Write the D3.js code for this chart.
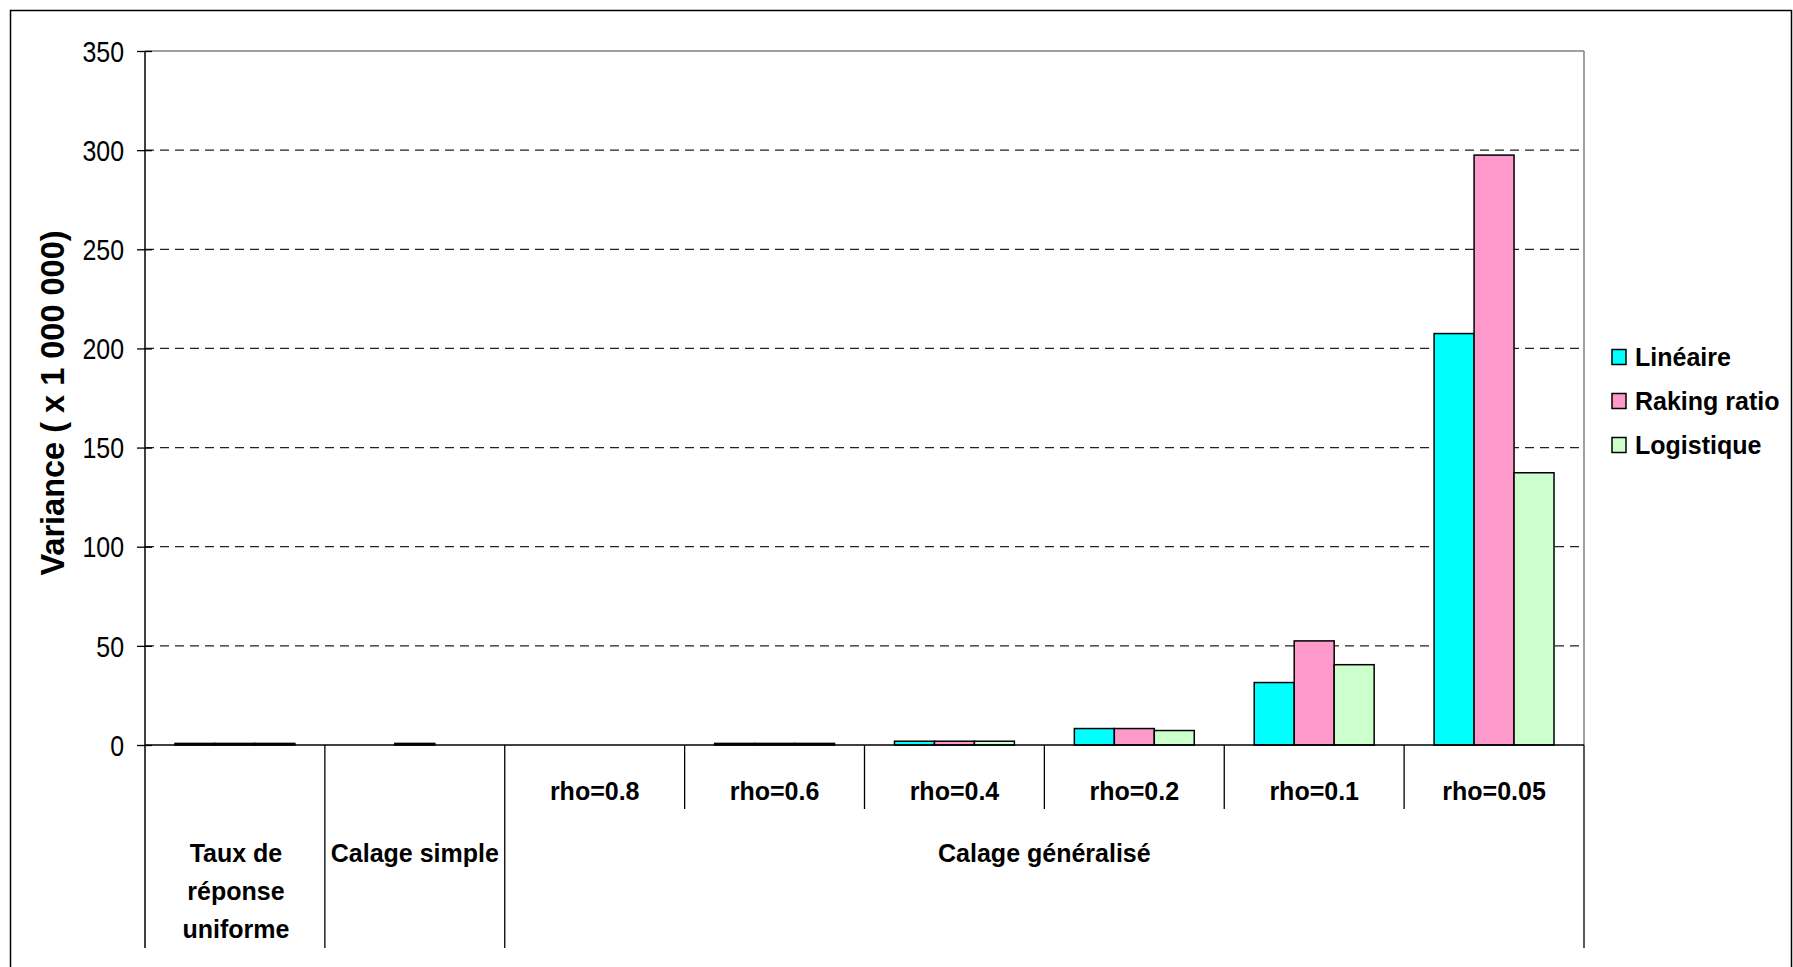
<!DOCTYPE html>
<html>
<head>
<meta charset="utf-8">
<script src="https://cdn.jsdelivr.net/npm/d3@7"></script>
<style>
  html, body { margin: 0; padding: 0; background: #fff; }
  svg { display: block; }
</style>
</head>
<body>
<svg id="chart" width="1793" height="967"></svg>
<script>
// ---- Data ----
const rhoLabels = ["", "", "rho=0.8", "rho=0.6", "rho=0.4", "rho=0.2", "rho=0.1", "rho=0.05"];
const groupLabels = [["Taux de", "réponse", "uniforme"], ["Calage simple"], ["Calage généralisé"]];
const groupSpans = [1, 1, 6];
const seriesNames = ["Linéaire", "Raking ratio", "Logistique"];
const seriesColors = ["#00FFFF", "#FF99CC", "#CCFFCC"];
const lineaire   = [0.8, null, null, 0.8, 1.9, 8.3, 31.5, 207.5];
const rakingRatio = [0.8, 0.8, null, 0.8, 1.9, 8.3, 52.5, 297.5];
const logistique = [0.8, null, null, 0.8, 1.9, 7.3, 40.5, 137.3];
const yTicks = [0, 50, 100, 150, 200, 250, 300, 350];
const yTitle = "Variance ( x 1 000 000)";

const seriesValues = [lineaire, rakingRatio, logistique];

// ---- Layout ----
const svg = d3.select("#chart");
const X0 = 145, X1 = 1584, YTOP = 51, YZERO = 745;
const LEVEL1_BOTTOM = 809, LEVEL2_BOTTOM = 948;

const x = d3.scaleBand().domain(d3.range(rhoLabels.length)).range([X0, X1]).paddingInner(0).paddingOuter(0);
const xs = d3.scaleBand().domain(d3.range(seriesNames.length)).range([0, x.bandwidth()]).paddingInner(0).paddingOuter(0.75);
const y = d3.scaleLinear().domain([0, 350]).range([YZERO, YTOP]);

// outer border
svg.append("rect").attr("x", 10.5).attr("y", 10.5).attr("width", 1781).attr("height", 1000)
  .attr("fill", "none").attr("stroke", "#000").attr("stroke-width", 1.5);

// gridlines
svg.append("g").selectAll("line").data(yTicks.filter(d => d > 0 && d < 350)).join("line")
  .attr("x1", X0).attr("x2", X1).attr("y1", d => y(d)).attr("y2", d => y(d))
  .attr("stroke", "#222").attr("stroke-width", 1.2).attr("stroke-dasharray", "9,6");

// plot border top and right (grey)
svg.append("line").attr("x1", X0).attr("x2", X1).attr("y1", y(350)).attr("y2", y(350))
  .attr("stroke", "#808080").attr("stroke-width", 1.5);
svg.append("line").attr("x1", X1).attr("x2", X1).attr("y1", y(350)).attr("y2", YZERO)
  .attr("stroke", "#808080").attr("stroke-width", 1.5);

// bars
const barData = [];
seriesValues.forEach((vals, si) => vals.forEach((v, ci) => { if (v !== null) barData.push({ si, ci, v }); }));
svg.append("g").selectAll("rect").data(barData).join("rect")
  .attr("x", d => x(d.ci) + xs(d.si))
  .attr("width", xs.bandwidth())
  .attr("y", d => y(d.v))
  .attr("height", d => y(0) - y(d.v))
  .attr("fill", d => seriesColors[d.si])
  .attr("stroke", "#000").attr("stroke-width", 1.5);

// y axis
const yAxis = d3.axisLeft(y).tickValues(yTicks).tickSize(8).tickPadding(0).tickFormat(d3.format("d"));
const gy = svg.append("g").attr("transform", `translate(${X0},0)`).call(yAxis);
gy.select(".domain").remove();
gy.selectAll(".tick line").attr("x1", 7).attr("x2", -8).attr("stroke", "#000").attr("stroke-width", 1.3);
const sx = 0.86;
gy.selectAll(".tick text")
  .attr("x", -21 / sx)
  .attr("dy", "0.35em")
  .attr("transform", `scale(${sx},1)`)
  .attr("font-family", "'Liberation Sans', Arial, sans-serif")
  .attr("font-size", 29)
  .attr("fill", "#000");
svg.append("line").attr("x1", X0).attr("x2", X0).attr("y1", YTOP).attr("y2", LEVEL2_BOTTOM)
  .attr("stroke", "#000").attr("stroke-width", 1.5);

// zero line
svg.append("line").attr("x1", X0).attr("x2", X1).attr("y1", YZERO).attr("y2", YZERO)
  .attr("stroke", "#000").attr("stroke-width", 1.5);

// y title
svg.append("text")
  .attr("transform", `translate(64,${(YTOP + YZERO) / 2 + 5}) rotate(-90)`)
  .attr("text-anchor", "middle")
  .attr("font-family", "'Liberation Sans', Arial, sans-serif")
  .attr("font-weight", "bold").attr("font-size", 32.5)
  .text(yTitle);

// level 1 category separators and labels
const labelFont = "'Liberation Sans', Arial, sans-serif";
svg.append("g").selectAll("line").data(d3.range(3, rhoLabels.length)).join("line")
  .attr("x1", d => x(d)).attr("x2", d => x(d))
  .attr("y1", YZERO).attr("y2", LEVEL1_BOTTOM)
  .attr("stroke", "#000").attr("stroke-width", 1.3);
svg.append("g").selectAll("text").data(rhoLabels.map((l, i) => ({ l, i })).filter(d => d.l)).join("text")
  .attr("x", d => x(d.i) + x.bandwidth() / 2)
  .attr("y", 800)
  .attr("text-anchor", "middle")
  .attr("font-family", labelFont).attr("font-weight", "bold").attr("font-size", 25)
  .text(d => d.l);

// level 2 groups
let start = 0;
const groups = groupLabels.map((lines, gi) => {
  const g = { lines, s: start, e: start + groupSpans[gi] };
  start += groupSpans[gi];
  return g;
});
const boundaries = [0].concat(groups.map(g => g.e));
svg.append("g").selectAll("line").data(boundaries.slice(1)).join("line")
  .attr("x1", d => d < rhoLabels.length ? x(d) : X1).attr("x2", d => d < rhoLabels.length ? x(d) : X1)
  .attr("y1", YZERO).attr("y2", LEVEL2_BOTTOM)
  .attr("stroke", "#000").attr("stroke-width", 1.3);
groups.forEach(g => {
  const x0 = x(g.s);
  const x1 = g.e < rhoLabels.length ? x(g.e) : X1;
  const t = svg.append("text")
    .attr("text-anchor", "middle")
    .attr("font-family", labelFont).attr("font-weight", "bold").attr("font-size", 25);
  g.lines.forEach((ln, i) => {
    t.append("tspan").attr("x", (x0 + x1) / 2 + (g.lines.length > 1 ? 1 : 0)).attr("y", 862 + i * 38).text(ln);
  });
});

// legend
const legend = svg.append("g");
seriesNames.forEach((n, i) => {
  const cy = 357 + i * 44;
  legend.append("rect").attr("x", 1612).attr("y", cy - 7.5).attr("width", 14).attr("height", 15)
    .attr("fill", seriesColors[i]).attr("stroke", "#000").attr("stroke-width", 1.5);
  legend.append("text").attr("x", 1635).attr("y", cy + 9)
    .attr("font-family", labelFont).attr("font-weight", "bold").attr("font-size", 25)
    .text(n);
});
</script>
</body>
</html>
